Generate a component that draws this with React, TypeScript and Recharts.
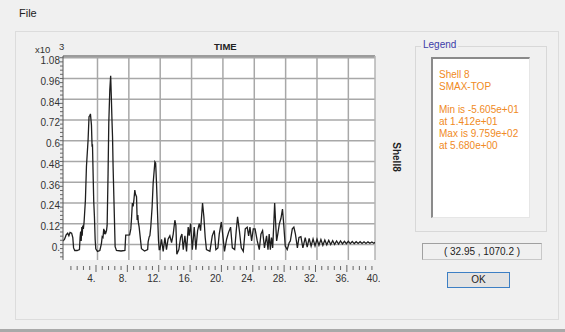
import { LineChart, Line, XAxis, YAxis, CartesianGrid, ReferenceLine } from 'recharts';

// time axis (s) and stress values (raw units, axis shows x10^3)
const X_MIN = -0.4;
const X_MAX = 39.4;
const Y_MIN = -90;
const Y_MAX = 1090;

// [time, SMAX-TOP] pairs
const peakSegment: [number, number][] = [
  [-0.4, 20], [-0.2, 30], [0.0, 55], [0.2, 65], [0.35, 50], [0.5, 70], [0.7, 65], [0.85, 40],
  [0.95, -20], [1.1, -35], [1.4, -35], [1.7, -30], [1.78, 40], [1.85, 75], [1.92, 20], [2.0, 100],
  [2.05, 50], [2.12, 110], [2.2, 90], [2.29, 130], [2.46, 257], [2.59, 449], [2.8, 604], [2.92, 739],
  [3.02, 745], [3.1, 755], [3.23, 690], [3.31, 565], [3.36, 580], [3.44, 411], [3.52, 250], [3.61, 160],
  [3.7, 30], [3.78, -25], [4.0, -40], [4.3, -35], [4.5, 5], [4.6, 45], [4.7, 40], [4.8, 90],
  [4.88, 60], [4.95, 75], [5.05, 65], [5.15, 80], [5.23, 110], [5.35, 411], [5.44, 700], [5.57, 893],
  [5.68, 976], [5.76, 860], [5.86, 700], [5.92, 620], [5.99, 449], [6.12, 218], [6.25, -13], [6.42, -35],
  [7.0, -38], [7.5, -35], [7.6, 54], [8.1, 55], [8.25, 90], [8.34, 150], [8.45, 240], [8.55, 220],
  [8.65, 260], [8.76, 314], [8.85, 290], [8.98, 276], [9.06, 141], [9.15, 170], [9.2, 130], [9.31, 102],
  [9.49, 25], [9.61, -25], [10.0, -38], [10.4, -30], [10.46, 15], [10.6, 45], [10.68, 50], [10.8, 102],
  [10.97, 218], [11.1, 353], [11.32, 478], [11.42, 470], [11.53, 353], [11.66, 180], [11.78, 25], [11.87, -30],
];

const noiseSegment: [number, number][] = [
  [11.96, -30], [12.17, 30], [12.38, -40], [12.6, 40], [12.8, -30], [13.0, 30], [13.23, 50], [13.45, 10],
  [13.66, 60], [13.87, 140], [14.0, 110], [14.12, -56], [14.38, -30], [14.6, 40], [14.77, 60], [14.94, -30],
  [15.15, 50], [15.36, -40], [15.57, 100], [15.7, 50], [15.87, 120], [16.1, -30], [16.34, 100], [16.55, -30],
  [16.77, 80], [16.98, 120], [17.15, 80], [17.4, 240], [17.57, 160], [17.74, 40], [17.9, -30], [18.34, -40],
  [18.64, 50], [18.9, 80], [19.1, -30], [19.36, -20], [19.53, 60], [19.8, 130], [20.04, 30], [20.2, -40],
  [20.47, 30], [20.72, 70], [20.98, 100], [21.2, -20], [21.5, -30], [21.7, 80], [21.87, 160], [22.1, 80],
  [22.34, -20], [22.6, -40], [22.85, 90], [23.1, 100], [23.28, 50], [23.45, 100], [23.66, 20], [23.87, 90],
  [24.1, 90], [24.38, 20], [24.64, -30], [24.85, 60], [25.06, 80], [25.3, -20], [25.57, 50], [25.75, -30],
  [25.9, 60], [26.05, -30], [26.2, 40], [26.35, -20], [26.5, 130], [26.6, 240], [26.72, 130], [26.85, 20],
  [27.0, 60], [27.2, 120], [27.4, 150], [27.6, 205], [27.75, 120], [27.95, -10], [28.2, -30], [28.45, 10],
  [28.6, 20], [28.85, 90], [29.05, 100], [29.25, 60], [29.5, -20], [29.7, 40],
];

const tailSegment: [number, number][] = [
  [29.95, 45], [30.2, -20], [30.5, 40], [30.75, -15], [31.0, 35], [31.25, -10], [31.5, 32], [31.75, -8],
  [32.0, 30], [32.25, -5], [32.5, 28], [32.75, -5], [33.0, 25], [33.25, -2], [33.5, 24], [33.75, 0],
  [34.0, 22], [34.25, 0], [34.5, 20], [34.75, 2], [35.0, 20], [35.25, 3], [35.5, 18], [35.75, 4],
  [36.0, 18], [36.25, 5], [36.5, 17], [36.75, 5], [37.0, 16], [37.25, 6], [37.5, 16], [37.75, 6],
  [38.0, 15], [38.25, 6], [38.5, 15], [38.75, 7], [39.0, 14], [39.25, 7], [39.4, 12],
];

const xLabelValues = [4, 8, 12, 16, 20, 24, 28, 32, 36, 40];
const xLabels = ['4.', '8.', '12.', '16.', '20.', '24.', '28.', '32.', '36.', '40.'];
const xGridValues = [4, 8, 12, 16, 20, 24, 28, 32, 36];

const yLabelValues = [0, 120, 240, 360, 480, 600, 720, 840, 960, 1080];
const yLabels = ['0.', '0.12', '0.24', '0.36', '0.48', '0.6', '0.72', '0.84', '0.96', '1.08'];

const legendLines = ['Shell 8', 'SMAX-TOP', '', 'Min is -5.605e+01', 'at 1.412e+01', 'Max is 9.759e+02', 'at 5.680e+00'];

const data = [...peakSegment, ...noiseSegment, ...tailSegment].map(([t, v]) => ({ t, v }));

// minor ticks every 0.8 along time, every 24 along stress
const xTicks = Array.from({ length: 50 }, (_, i) => Math.round((i + 1) * 0.8 * 100) / 100);
const yTicks = Array.from({ length: 49 }, (_, i) => -72 + i * 24);

const FONT = '"Liberation Sans", Arial, sans-serif';

const XTick = ({ x, y, payload }: any) => {
  const v = payload.value;
  const idx = xLabelValues.findIndex(m => Math.abs(m - v) < 1e-6);
  const inside = v <= X_MAX;
  return (
    <g>
      {inside && (
        <line x1={x - 1.5} x2={x - 1.5} y1={y + (idx >= 0 ? 5 : 6)} y2={y + (idx >= 0 ? 12 : 10)} stroke="#666" strokeWidth={1} />
      )}
      {idx >= 0 && (
        <text x={x - 6} y={y + 22} textAnchor="middle" fontSize={10} fontFamily={FONT} fill="#333">
          {xLabels[idx]}
        </text>
      )}
    </g>
  );
};

const YTick = ({ x, y, payload }: any) => {
  const idx = yLabelValues.indexOf(payload.value);
  return (
    <g>
      <line x1={x - 3} x2={x} y1={y} y2={y} stroke="#666" strokeWidth={1} />
      {idx >= 0 && (
        <text x={x - 3} y={y + 3} dy="0.35em" textAnchor="end" fontSize={10} fontFamily={FONT} fill="#333">
          {yLabels[idx]}
        </text>
      )}
    </g>
  );
};

const abs = (left: number, top: number, extra: any = {}) => ({ position: 'absolute' as const, left, top, ...extra });

export default function App() {
  return (
    <div style={{ position: 'absolute', left: 0, top: 0, width: 565, height: 332, background: '#f0f0f0', overflow: 'hidden', fontFamily: FONT }}>
      <div style={abs(19, 7, { fontSize: 11, color: '#222' })}>File</div>
      <div style={abs(15, 31, { width: 544, height: 289, border: '1px solid #dcdcdc', boxSizing: 'border-box' })} />
      <div style={abs(0, 329, { width: 565, height: 3, background: '#a9a9a9' })} />

      <div style={abs(0, 0)}>
        <LineChart width={380} height={300} data={data} margin={{ top: 56, right: 5, bottom: 10, left: 0 }}>
          <CartesianGrid
            fill="#ffffff"
            stroke="#a8a8a8"
            strokeWidth={1.5}
            horizontalValues={yLabelValues}
            verticalValues={xGridValues}
          />
          <XAxis
            type="number"
            dataKey="t"
            domain={[X_MIN, X_MAX]}
            allowDataOverflow
            ticks={xTicks}
            interval={0}
            tick={<XTick />}
            tickLine={false}
            axisLine={false}
            tickSize={0}
            tickMargin={0}
            height={30}
          />
          <YAxis
            type="number"
            domain={[Y_MIN, Y_MAX]}
            allowDataOverflow
            ticks={yTicks}
            interval={0}
            tick={<YTick />}
            tickLine={false}
            axisLine={{ stroke: '#555', strokeWidth: 1 }}
            tickSize={0}
            tickMargin={0}
            width={63}
          />
          <ReferenceLine y={Y_MAX} stroke="#9c9c9c" strokeWidth={2} />
          <ReferenceLine x={X_MAX} stroke="#b4b4b4" strokeWidth={1.5} />
          <Line type="linear" dataKey="v" stroke="#1e1e1e" strokeWidth={1.3} dot={false} isAnimationActive={false} />
        </LineChart>
      </div>

      <div style={abs(214, 41, { fontSize: 9.5, fontWeight: 'bold', color: '#222' })}>TIME</div>
      <div style={abs(35, 44, { fontSize: 9.5, color: '#333' })}>x10</div>
      <div style={abs(59, 41, { fontSize: 9.5, color: '#333' })}>3</div>
      <div style={abs(388, 157, { fontSize: 10, fontWeight: 'bold', color: '#222', transform: 'translate(-50%, -50%) rotate(90deg)', transformOrigin: 'center', left: 396 })}>
        Shell8
      </div>

      <div style={abs(415, 46, { width: 132, height: 186, border: '1px solid #d8d8d8', boxSizing: 'border-box' })} />
      <div style={abs(421, 39, { fontSize: 10, color: '#3c3ca8', background: '#f0f0f0', padding: '0 2px' })}>Legend</div>
      <div
        style={abs(431, 57, {
          width: 99,
          height: 161,
          background: '#ffffff',
          borderTop: '2px solid #8a8a8a',
          borderLeft: '2px solid #8a8a8a',
          borderRight: '1px solid #e6e6e6',
          borderBottom: '1px solid #e6e6e6',
          boxSizing: 'border-box',
          padding: '10px 0 0 6px',
          fontSize: 10,
          lineHeight: '11.8px',
          color: '#f08a24',
        })}
      >
        {legendLines.map((l, i) => (
          <div key={i} style={{ height: 11.8, whiteSpace: 'nowrap' }}>{l}</div>
        ))}
      </div>

      <div
        style={abs(422, 243, {
          width: 120,
          height: 17,
          border: '1px solid #c8c8c8',
          borderTopColor: '#a0a0a0',
          borderLeftColor: '#a0a0a0',
          boxSizing: 'border-box',
          fontSize: 10,
          color: '#222',
          textAlign: 'center',
          lineHeight: '15px',
        })}
      >
        ( 32.95 , 1070.2 )
      </div>
      <div
        style={abs(447, 272, {
          width: 63,
          height: 16,
          border: '1px solid #3c7fc4',
          background: '#e3e3e3',
          boxSizing: 'border-box',
          fontSize: 10,
          color: '#222',
          textAlign: 'center',
          lineHeight: '14px',
        })}
      >
        OK
      </div>
    </div>
  );
}
